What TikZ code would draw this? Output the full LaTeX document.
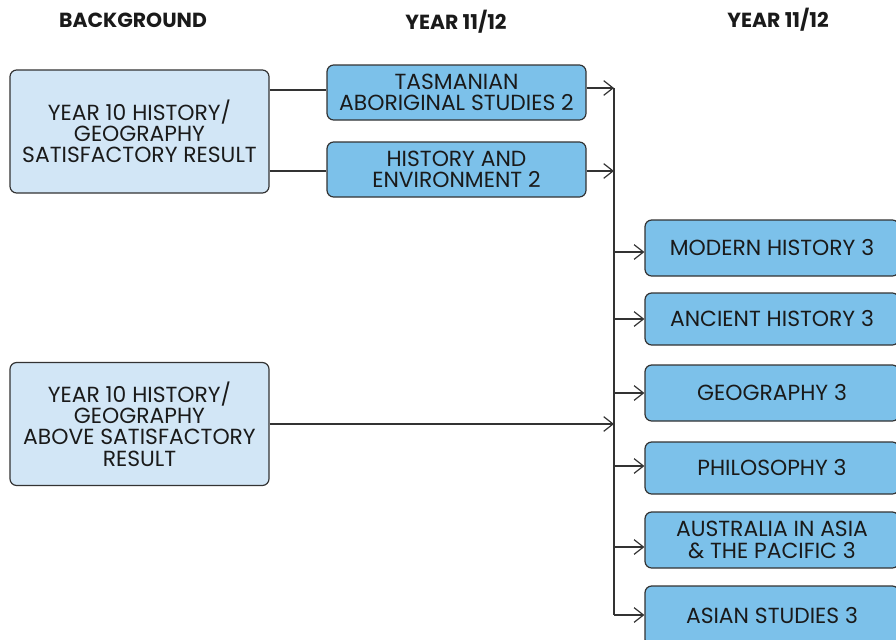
\documentclass[tikz,border=0pt]{standalone}
\usepackage{fontspec}
\setmainfont{Poppins}
\usetikzlibrary{arrows.meta}
\newdimen\pxu \pxu=0.75pt
\definecolor{paleblue}{HTML}{D2E6F6}
\definecolor{midblue}{HTML}{7CC1EA}
\definecolor{edge}{HTML}{333333}
\definecolor{ink}{HTML}{1A1A1A}
\begin{document}
\begin{tikzpicture}[x=0.75pt,y=-0.75pt,
  box/.style={draw=edge, line width=0.9pt, rounded corners=5pt, align=center,
    text=ink, inner sep=0pt, font=\fontsize{16.4}{15.9}\selectfont},
  startbox/.style={box, fill=paleblue, minimum width=259\pxu, minimum height=123\pxu},
  unitbox/.style={box, fill=midblue, minimum width=259\pxu, minimum height=55\pxu},
  wide/.style={box, fill=midblue, minimum width=254\pxu, minimum height=55\pxu},
  heading/.style={font=\bfseries\fontsize{15.3}{16}\selectfont, text=ink},
  link/.style={draw=edge, line width=0.9pt},
  arr/.style={link, -{Straight Barb[length=7pt, width=11pt]}}]
\useasboundingbox (0,0) rectangle (896,639);

% column headings
\node[heading] (h1) at (133,20) {BACKGROUND};
\node[heading] (h2) at (456,22) {YEAR 11/12};
\node[heading] (h3) at (778,20) {YEAR 11/12};

% background boxes
\node[startbox] (sat) at (139.5,131.5) {YEAR 10 HISTORY/\\GEOGRAPHY\\SATISFACTORY RESULT};
\node[startbox] (above) at (139.5,424) {YEAR 10 HISTORY/\\GEOGRAPHY\\ABOVE SATISFACTORY\\RESULT};

% level 2 units
\node[unitbox] (tas) at (456.5,92.5) {TASMANIAN\\ABORIGINAL STUDIES 2};
\node[unitbox] (env) at (456.5,169.5) {HISTORY AND\\ENVIRONMENT 2};

% level 3 units
\node[wide, minimum height=56\pxu] (modern) at (772,248) {MODERN HISTORY 3};
\node[wide, minimum height=52\pxu] (ancient) at (772,319) {ANCIENT HISTORY 3};
\node[wide, minimum height=56\pxu] (geo) at (772,393) {GEOGRAPHY 3};
\node[wide, minimum height=52\pxu] (phil) at (772,468) {PHILOSOPHY 3};
\node[wide, minimum height=56\pxu] (aus) at (772,540) {AUSTRALIA IN ASIA\\\& THE PACIFIC 3};
\node[wide, minimum height=60\pxu] (asian) at (772,616) {ASIAN STUDIES 3};

% distribution bus
\coordinate (bus) at (614,0);
\coordinate (bustop) at (614,88);
\coordinate (busbot) at (614,615);
\draw[link] (bustop) -- (busbot);

% background to level 2
\draw[link] (sat.east |- 0,90) -- (tas.west |- 0,90);
\draw[link] (sat.east |- 0,171) -- (env.west |- 0,171);
\draw[arr] (above.east) -- (bus |- above.east);

% level 2 into bus
\draw[arr] (tas.east |- 0,88) -- (bustop);
\draw[arr] (env.east |- 0,171) -- (bus |- 0,171);

% bus to level 3
\draw[arr] (bus |- 0,252) -- (modern.west |- 0,252);
\draw[arr] (bus |- 0,319) -- (ancient.west |- 0,319);
\draw[arr] (bus |- 0,393) -- (geo.west |- 0,393);
\draw[arr] (bus |- 0,466) -- (phil.west |- 0,466);
\draw[arr] (bus |- 0,547) -- (aus.west |- 0,547);
\draw[arr] (busbot) -- (asian.west |- busbot);
\end{tikzpicture}
\end{document}
